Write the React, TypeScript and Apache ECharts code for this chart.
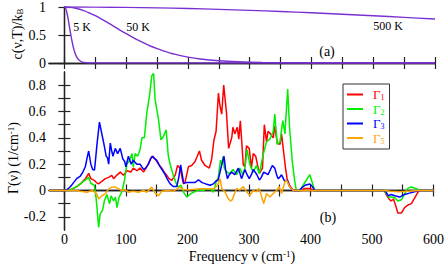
import React, { useEffect, useRef } from 'react';
import * as echarts from 'echarts';

const FONT = 'Liberation Serif, serif';

// Axis ticks / labels
const freqTicks = [0, 50, 100, 150, 200, 250, 300, 350, 400, 450, 500, 550, 600];
const freqLabels = [0, 100, 200, 300, 400, 500, 600];
const cTicks = [0, 0.5, 1];
const cLabels = [0, 0.5, 1];
const gammaTicks = [-0.2, -0.1, 0, 0.1, 0.2, 0.3, 0.4, 0.5, 0.6, 0.7, 0.8];
const gammaLabels = [-0.2, 0, 0.2, 0.4, 0.6, 0.8];

// Panel (a): c(nu,T)/kB
const c5K = [
  [0, 1], [2, 0.973], [4, 0.897], [6, 0.785], [8, 0.655], [10, 0.523], [12, 0.402],
  [14, 0.299], [16, 0.217], [18, 0.153], [20, 0.105], [22, 0.071], [25, 0.039],
  [28, 0.021], [32, 0.0085], [40, 0.0013], [50, 0], [600, 0],
];
const c50K = [
  [0, 1], [10, 0.993], [20, 0.973], [30, 0.94], [40, 0.897], [50, 0.844], [60, 0.785],
  [70, 0.721], [80, 0.655], [90, 0.588], [100, 0.523], [110, 0.461], [120, 0.402],
  [130, 0.349], [140, 0.299], [150, 0.256], [160, 0.217], [170, 0.182], [180, 0.153],
  [200, 0.105], [220, 0.071], [250, 0.039], [280, 0.021], [320, 0.0085], [400, 0.0013],
  [500, 0.0001], [600, 0],
];
const c500K = [
  [0, 1], [50, 0.998], [100, 0.993], [150, 0.985], [200, 0.973], [250, 0.958],
  [300, 0.94], [350, 0.92], [400, 0.897], [450, 0.871], [500, 0.844], [550, 0.815], [600, 0.785],
];

// Panel (b): Gamma(nu)
const gamma1 = [
  [-25, 0], [0, 0], [8, 0.005], [12.4, 0.01], [20, 0.03], [26, 0.05], [30, 0.07], [34, 0.09],
  [37, 0.11], [39.5, 0.13], [43, 0.09], [48.6, 0.077], [52, 0.06], [55.7, 0.05], [61, 0.07],
  [66.5, 0.09], [72, 0.1], [77, 0.115], [80, 0.09], [85, 0.115], [91, 0.14], [96, 0.115],
  [101.6, 0.15], [108, 0.14], [112, 0.17], [118, 0.15], [123, 0.17], [128.6, 0.14], [134, 0.18],
  [138, 0.22], [142, 0.26], [147.5, 0.24], [153, 0.2], [158.4, 0.17], [162, 0.14], [166.5, 0.115],
  [170, 0.09], [174.6, 0.077], [180, 0.115], [184, 0.19], [188, 0.17], [193.5, 0.05], [196, 0.06],
  [201.6, 0.18], [207, 0.19], [212.4, 0.22], [216, 0.26], [219.5, 0.3], [223, 0.23], [228.6, 0.19],
  [235.6, 0.17], [239.5, 0.24], [243, 0.38], [246.6, 0.45], [250.4, 0.74], [253, 0.64],
  [255.7, 0.58], [259, 0.8], [263.5, 0.59], [267, 0.32], [272, 0.4], [274, 0.48], [277, 0.43],
  [281, 0.48], [283.5, 0.39], [286, 0.53], [290.8, 0.195], [293.5, 0.18], [296, 0.34],
  [300.5, 0.32], [304, 0.17], [307, 0.28], [311, 0.26], [315, 0.17], [317, 0.13], [322, 0.17],
  [325, 0.5], [328.6, 0.37], [331, 0.45], [335, 0.43], [339.5, 0.4], [342, 0.49], [346, 0.36],
  [350.5, 0.35], [353, 0.43], [355.7, 0.32], [359.5, 0.17], [362, 0.09], [366, 0.04], [372, 0],
  [385, 0], [390, 0.015], [400, 0.015], [405, 0], [520, 0], [523, -0.03], [527, -0.06],
  [531, -0.08], [535, -0.065], [539.5, -0.13], [542, -0.17], [548, -0.17], [553, -0.13],
  [558.5, -0.11], [564, -0.1], [569, -0.06], [575, -0.01], [578, 0], [600, 0],
];
const gamma2 = [
  [-25, 0], [0, 0], [8, 0.005], [12, 0.01], [20, 0.03], [26, 0.05], [30, 0.065], [34, 0.08],
  [39.5, 0.1], [43, 0.055], [48.6, 0.04], [51, -0.03], [53, -0.13], [55.7, -0.28], [58, -0.18],
  [62, -0.15], [65, -0.08], [69, -0.03], [73.5, -0.1], [76, -0.04], [80, -0.08], [83, -0.05],
  [85.5, -0.13], [89, -0.05], [93.5, -0.01], [97.8, 0.08], [101.6, 0.2], [106, 0.23], [110, 0.28],
  [112, 0.18], [115, 0.28], [119, 0.26], [123, 0.31], [126, 0.4], [130, 0.4], [134, 0.59],
  [138.4, 0.72], [142, 0.87], [145, 0.89], [147.5, 0.69], [153, 0.54], [157, 0.385], [161, 0.41],
  [165.5, 0.46], [169, 0.26], [173, 0.18], [177, 0.115], [181.6, 0.056], [185, 0.026],
  [189.7, 0.04], [193.5, -0.01], [199, -0.05], [204, -0.03], [210, -0.013], [218, 0.005],
  [226, 0], [231, 0.013], [237, 0.013], [242, -0.013], [247.5, 0.077], [250, 0.09], [253.7, 0.23],
  [256, 0.2], [258, 0.26], [260, 0.17], [263.5, 0.14], [269, 0.13], [274, 0.16], [280, 0.12],
  [285, 0.17], [290, 0.12], [293.5, 0.17], [297, 0.31], [301.6, 0.195], [307, 0.14], [312, 0.19],
  [317, 0.13], [323, 0.27], [328.6, 0.37], [334, 0.39], [339.5, 0.45], [342, 0.58], [346, 0.35],
  [350.5, 0.37], [355, 0.53], [358.5, 0.43], [363, 0.77], [366, 0.48], [370.5, 0.22],
  [374.5, 0.07], [377, 0], [383, 0], [388, 0.04], [399, 0.12], [407, 0], [520, 0], [523, -0.02],
  [527, -0.05], [531, -0.05], [537, -0.055], [542, -0.08], [548, -0.07], [553, -0.025],
  [558.5, 0.018], [564, 0.026], [572, 0.013], [578, 0], [600, 0],
];
const gamma3 = [
  [-25, 0], [0, 0], [4, 0.005], [10, 0.03], [15, 0.06], [20, 0.09], [26, 0.11], [30, 0.14],
  [34, 0.18], [37, 0.25], [39.5, 0.3], [43, 0.2], [46, 0.16], [49, 0.155], [53, 0.35], [57, 0.52],
  [60, 0.45], [64, 0.36], [68, 0.26], [70, 0.25], [72, 0.2], [74.6, 0.36], [77, 0.3], [79, 0.26],
  [82.7, 0.32], [86.5, 0.28], [90.8, 0.32], [95, 0.24], [98, 0.22], [100, 0.18], [104, 0.26],
  [108.6, 0.2], [112, 0.23], [117.8, 0.2], [123, 0.2], [128.6, 0.16], [132, 0.17], [136.7, 0.2],
  [140, 0.24], [143.8, 0.26], [147, 0.24], [150, 0.23], [155.7, 0.18], [160, 0.15], [163.8, 0.12],
  [168, 0.08], [172, 0.05], [177, 0.03], [182.7, 0.03], [186, 0.1], [189, 0.195], [194, 0.054],
  [199, 0.06], [205, 0.06], [212, 0.06], [218, 0.08], [224, 0.06], [230, 0.05], [237, 0.04],
  [242, 0.05], [246, 0.07], [250, 0.08], [253, 0.14], [256, 0.2], [259.5, 0.26], [262, 0.16],
  [265, 0.09], [268, 0.12], [272, 0.14], [277, 0.12], [282.7, 0.17], [288, 0.09], [293.5, 0.16],
  [297, 0.12], [300.5, 0.09], [304, 0.12], [307, 0.16], [313, 0.12], [317, 0.08], [320, 0.1],
  [324, 0.14], [328, 0.13], [331, 0.12], [334, 0.15], [338, 0.19], [342, 0.17], [345, 0.12],
  [347.5, 0.09], [350, 0.1], [353, 0.12], [356, 0.09], [358, 0.07], [362, 0.08], [366, 0.03],
  [372, 0], [382, 0], [386, 0.02], [391, 0.04], [399, 0.05], [403, 0.03], [407, 0], [520, 0],
  [523, -0.01], [526, -0.04], [531, -0.03], [537, -0.04], [545, -0.05], [553, -0.03],
  [561, -0.02], [569, -0.01], [575, 0], [600, 0],
];
const gamma5 = [
  [-25, 0], [0, 0], [20, 0], [26, -0.005], [36.7, -0.013], [45, 0], [50, -0.013], [53, -0.03],
  [55.7, -0.065], [61, -0.04], [66.5, -0.026], [72, 0.013], [77, 0.026], [83, 0.026], [88, 0.013],
  [93.5, 0], [99, 0.005], [104, -0.013], [112, -0.005], [120, -0.013], [128.6, 0], [134, -0.013],
  [142, 0.026], [147.5, -0.02], [153, -0.04], [158.4, -0.005], [166.5, 0], [177, -0.005],
  [188, 0.026], [193.5, 0.005], [204, 0.005], [220, 0.013], [242, 0.013], [247, 0.03], [250, 0.05],
  [253, 0.09], [256, 0.015], [261, -0.01], [266, -0.06], [270, -0.08], [273, -0.07], [276, -0.03],
  [280, 0.015], [285, 0.003], [290.8, 0.03], [296, -0.01], [301.6, -0.036], [307, 0], [312, -0.01],
  [316.6, 0.015], [320, -0.036], [324, -0.1], [328.6, -0.023], [334, -0.05], [339.5, -0.023],
  [345, 0], [349, 0.03], [353, -0.023], [358.5, 0.067], [361, 0.08], [366, 0.03], [372, 0],
  [520, 0], [530, -0.005], [545, -0.01], [560, -0.005], [575, 0], [600, 0],
];

const gammaSeries = [
  { name: 'Γ1', color: '#ff0000', data: gamma1 },
  { name: 'Γ2', color: '#00ee00', data: gamma2 },
  { name: 'Γ3', color: '#0000ff', data: gamma3 },
  { name: 'Γ5', color: '#ffa500', data: gamma5 },
];
const tempCurves = [
  { name: '5 K', data: c5K },
  { name: '50 K', data: c50K },
  { name: '500 K', data: c500K },
];

const PURPLE = '#7a2fd2';
const AXIS = '#222';

function xAxisDef(gridIndex: number, position: string, showLabels: boolean) {
  return {
    type: 'value',
    gridIndex,
    position,
    min: -25,
    max: 600,
    axisLine: { show: true, lineStyle: { color: AXIS, width: 1.3 } },
    axisTick: { show: true, inside: true, length: 6, customValues: freqTicks, lineStyle: { color: AXIS, width: 1.2 } },
    axisLabel: {
      show: showLabels,
      customValues: freqLabels,
      margin: 3,
      color: '#000',
      fontFamily: FONT,
      fontSize: 14,
      lineHeight: 13,
    },
    splitLine: { show: false },
  };
}

function yAxisDef(gridIndex: number, position: string, showLabels: boolean, min: number, max: number, ticks: number[], labels: number[]) {
  return {
    type: 'value',
    gridIndex,
    position,
    min,
    max,
    axisLine: { show: true, lineStyle: { color: AXIS, width: 1.3 } },
    axisTick: { show: true, inside: true, length: 6, customValues: ticks, lineStyle: { color: AXIS, width: 1.2 } },
    axisLabel: {
      show: showLabels,
      customValues: labels,
      margin: 3,
      color: '#000',
      fontFamily: FONT,
      fontSize: 14,
      formatter: (v: number) => (v === 0 ? '0' : Number.isInteger(v) ? String(v) : v.toFixed(1)),
    },
    splitLine: { show: false },
  };
}

export default function App() {
  const ref = useRef<HTMLDivElement>(null);
  useEffect(() => {
    document.body.style.margin = '0';
    if (!ref.current) return;
    const chart = echarts.init(ref.current, undefined, { renderer: 'svg' });
    const richBase = {
      m: { fontFamily: FONT, fontSize: 14, lineHeight: 14, color: '#000' },
      sup: { fontFamily: FONT, fontSize: 9, lineHeight: 8, verticalAlign: 'top', color: '#000' },
      sub: { fontFamily: FONT, fontSize: 9, lineHeight: 6, verticalAlign: 'bottom', color: '#000' },
    };
    const option: any = {
      animation: false,
      textStyle: { fontFamily: FONT },
      grid: [
        { left: 49, top: 5, width: 386, height: 58, show: false },
        { left: 49, top: 72, width: 386, height: 158, show: false },
      ],
      xAxis: [
        xAxisDef(0, 'bottom', false),
        xAxisDef(0, 'top', false),
        xAxisDef(1, 'bottom', true),
        xAxisDef(1, 'top', false),
      ],
      yAxis: [
        yAxisDef(0, 'left', true, 0, 1, cTicks, cLabels),
        yAxisDef(0, 'right', false, 0, 1, cTicks, cLabels),
        yAxisDef(1, 'left', true, -0.3, 0.9, gammaTicks, gammaLabels),
        yAxisDef(1, 'right', false, -0.3, 0.9, gammaTicks, gammaLabels),
      ],
      legend: {
        show: true,
        orient: 'vertical',
        left: 343,
        top: 84,
        padding: [4, 5, 4, 4],
        itemGap: 1,
        itemWidth: 16,
        itemHeight: 2,
        icon: 'rect',
        borderColor: '#333',
        borderWidth: 1,
        data: gammaSeries.map((g) => ({
          name: g.name,
          textStyle: {
            color: g.color,
            rich: {
              m: { fontFamily: FONT, fontSize: 13, lineHeight: 14, color: g.color, padding: [0, 0, 0, 5] },
              s: { fontFamily: FONT, fontSize: 8, lineHeight: 4, verticalAlign: 'bottom', color: g.color },
            },
          },
        })),
        formatter: (name: string) => `{m|Γ}{s|${name.slice(1)}}`,
      },
      series: [
        ...tempCurves.map((t) => ({
          name: t.name,
          type: 'line',
          xAxisIndex: 0,
          yAxisIndex: 0,
          data: t.data,
          symbol: 'none',
          smooth: 0.3,
          lineStyle: { color: PURPLE, width: 1.4 },
          clip: true,
        })),
        ...gammaSeries.map((g) => ({
          name: g.name,
          type: 'line',
          xAxisIndex: 2,
          yAxisIndex: 2,
          data: g.data,
          symbol: 'none',
          color: g.color,
          lineStyle: { color: g.color, width: 1.5 },
          clip: true,
        })),
      ],
      graphic: [
        { type: 'text', x: 82, y: 27, style: { text: '5 K', fontFamily: FONT, fontSize: 12, fill: '#000', textAlign: 'center', textVerticalAlign: 'middle' } },
        { type: 'text', x: 138, y: 27, style: { text: '50 K', fontFamily: FONT, fontSize: 12, fill: '#000', textAlign: 'center', textVerticalAlign: 'middle' } },
        { type: 'text', x: 388, y: 26, style: { text: '500 K', fontFamily: FONT, fontSize: 12, fill: '#000', textAlign: 'center', textVerticalAlign: 'middle' } },
        { type: 'text', x: 327, y: 51, style: { text: '(a)', fontFamily: FONT, fontSize: 14, fill: '#000', textAlign: 'center', textVerticalAlign: 'middle' } },
        { type: 'text', x: 328, y: 217, style: { text: '(b)', fontFamily: FONT, fontSize: 14, fill: '#000', textAlign: 'center', textVerticalAlign: 'middle' } },
        {
          type: 'text', x: 242, y: 256,
          style: { text: '{m|Frequency ν (cm}{sup|-1}{m|)}', rich: richBase, textAlign: 'center', textVerticalAlign: 'middle' },
        },
        {
          type: 'text', x: 13, y: 158, rotation: Math.PI / 2,
          style: { text: '{m|Γ(ν) (1/cm}{sup|-1}{m|)}', rich: richBase, textAlign: 'center', textVerticalAlign: 'middle' },
        },
        {
          type: 'text', x: 17, y: 34, rotation: Math.PI / 2,
          style: { text: '{m|c(ν,T)/k}{sub|B}', rich: richBase, textAlign: 'center', textVerticalAlign: 'middle' },
        },
      ],
    };
    chart.setOption(option);
    return () => chart.dispose();
  }, []);
  return <div ref={ref} style={{ width: 447, height: 267 }} />;
}
